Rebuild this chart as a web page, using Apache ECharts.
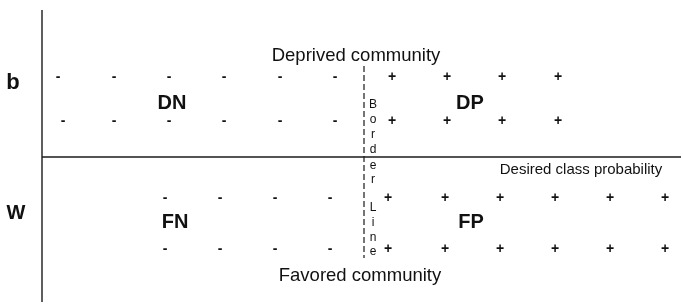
<!DOCTYPE html>
<html lang="en">
<head>
    <meta charset="UTF-8"/>
    <title>Deprived / Favored community</title>
    <script src="https://cdn.jsdelivr.net/npm/echarts@6/dist/echarts.min.js"></script>
</head>
<body style="margin:0">
<div id="main" style="width: 683px;height:308px;"></div>

<script type="text/javascript">
    // diagram coordinates (x: class probability axis, y: from top)
    var minusX = [58, 114, 169, 224, 280, 335];
    var minusX2 = [63, 114, 169, 224, 280, 335];
    var minusLowX = [165, 220, 275, 330];
    var plusX = [392, 447, 502, 558];
    var plusLowX = [388, 445, 500, 555, 610, 665];
    var rowsTop = [77, 121];
    var rowsLow = [198, 249];

    var borderLetters = ['B', 'o', 'r', 'd', 'e', 'r', 'L', 'i', 'n', 'e'];
    var borderY = [105, 120, 135, 150, 166, 180, 208, 223, 238, 252];

    var labels = [
        {text: 'Deprived community', x: 356, y: 56, size: 18.5, bold: false},
        {text: 'Favored community', x: 360, y: 276, size: 18.5, bold: false},
        {text: 'Desired class probability', x: 581, y: 170, size: 15, bold: false},
        {text: 'DN', x: 172, y: 103, size: 20, bold: true},
        {text: 'DP', x: 470, y: 103, size: 20, bold: true},
        {text: 'FN', x: 175, y: 222, size: 20, bold: true},
        {text: 'FP', x: 471, y: 222, size: 20, bold: true},
        {text: 'b', x: 13, y: 83, size: 22, bold: true},
        {text: 'W', x: 16, y: 213, size: 20, bold: true}
    ];

    var axisV = [[42, 10], [42, 302]];
    var axisH = [[42, 157], [681, 157]];
    var borderLine = [[364, 66], [364, 258]];

    var font = 'Arial, "Liberation Sans", sans-serif';

    function signs(xs, ys, ch) {
        var out = [];
        for (var r = 0; r < ys.length; r++) {
            var row = Array.isArray(xs[0]) ? xs[r] : xs;
            for (var i = 0; i < row.length; i++) {
                out.push({value: [row[i], ys[r]], name: ch});
            }
        }
        return out;
    }

    var minusData = []
        .concat(signs([minusX, minusX2], rowsTop, '-'))
        .concat(signs(minusLowX, rowsLow, '-'));
    var plusData = []
        .concat(signs(plusX, rowsTop, '+'))
        .concat(signs(plusLowX, rowsLow, '+'));

    var letterData = borderLetters.map(function (c, i) {
        return {value: [373, borderY[i]], name: c};
    });

    var labelData = labels.map(function (l) {
        return {
            value: [l.x, l.y], name: l.text,
            label: {fontSize: l.size, fontWeight: l.bold ? 'bold' : 'normal'}
        };
    });

    var myChart = echarts.init(document.getElementById('main'));

    function textLabel(extra) {
        return Object.assign({
            show: true, position: 'inside', color: '#111',
            fontFamily: font, formatter: '{b}'
        }, extra || {});
    }

    function textSeries(data, extra) {
        return {
            type: 'scatter', data: data, symbolSize: 1, silent: true,
            itemStyle: {color: 'rgba(0,0,0,0)', opacity: 1},
            label: textLabel(extra)
        };
    }

    var option = {
        animation: false,
        backgroundColor: '#fff',
        grid: {left: 0, right: 0, top: 0, bottom: 0},
        xAxis: {type: 'value', min: 0, max: 683, show: false},
        yAxis: {type: 'value', min: 0, max: 308, inverse: true, show: false},
        series: [
            {
                type: 'line', data: axisV, symbol: 'none', silent: true,
                lineStyle: {color: '#1a1a1a', width: 1.4}
            },
            {
                type: 'line', data: axisH, symbol: 'none', silent: true,
                lineStyle: {color: '#1a1a1a', width: 1.4}
            },
            {
                type: 'line', data: borderLine, symbol: 'none', silent: true,
                lineStyle: {color: '#1a1a1a', width: 1.2, type: [6, 3]}
            },
            textSeries(minusData, {fontSize: 14, fontWeight: 'bold'}),
            textSeries(plusData, {fontSize: 14, fontWeight: 'bold'}),
            textSeries(letterData, {fontSize: 12}),
            textSeries(labelData)
        ]
    };

    myChart.setOption(option);
</script>

</body>
</html>
